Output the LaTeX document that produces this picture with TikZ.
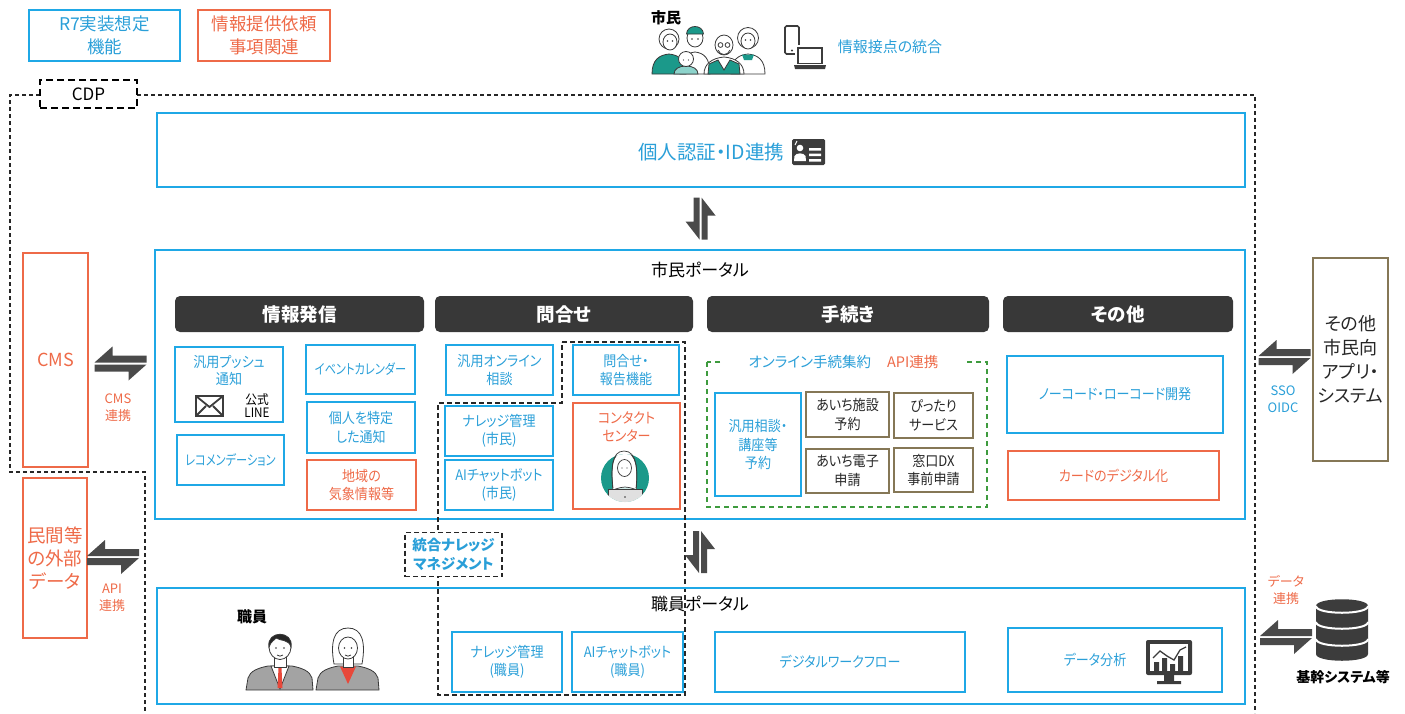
\documentclass[tikz,border=0pt]{standalone}
\usepackage{fontspec}
\setmainfont{Noto Sans CJK JP}[RawFeature=+palt]
\newfontfamily\nrw{Noto Sans CJK JP}[RawFeature=+palt, FakeStretch=0.9]
\newfontfamily\nrwx{Noto Sans CJK JP}[RawFeature=+palt, FakeStretch=0.8]
\usetikzlibrary{calc}
\definecolor{cblue}{HTML}{1FA8E6}
\definecolor{cbluetxt}{HTML}{2A9FD8}
\definecolor{corange}{HTML}{EE6A48}
\definecolor{colive}{HTML}{857756}
\definecolor{cgreen}{HTML}{3E9B3E}
\definecolor{chdr}{HTML}{383838}
\definecolor{carrow}{HTML}{4A4A4A}
\definecolor{cteal}{HTML}{1B998A}
\definecolor{cteallight}{HTML}{8DD3CB}
\definecolor{cicon}{HTML}{3C3C3C}
\definecolor{cline}{HTML}{3A3A3A}
\definecolor{csuit}{HTML}{A3A3A3}
\definecolor{cred}{HTML}{E8483A}
\newcommand\fsz[2]{\fontsize{#1pt}{#2pt}\selectfont}
\tikzset{
  every node/.style={inner sep=0pt, outer sep=0pt},
  sz/.style 2 args={minimum width=#1pt, minimum height=#2pt},
  bbox/.style={draw=cblue, line width=1.3pt, text=cbluetxt, align=center, font=\nrw\fsz{14.5}{18.5}},
  obox/.style={draw=corange, line width=1.3pt, text=corange, align=center, font=\nrw\fsz{14.5}{18.5}},
  kbox/.style={draw=colive, line width=1.7pt, text=black!85, align=center, font=\nrw\fsz{14.5}{18.5}},
  hdr/.style={fill=chdr, rounded corners=5pt, text=white, font=\bfseries\fsz{18.5}{22}},
  portal/.style={draw=cblue, line width=1.3pt},
  cdpline/.style={draw=black!85, line width=1.1pt, dash pattern=on 4pt off 3pt},
  kmline/.style={draw=black!85, line width=1.2pt, dash pattern=on 5pt off 3pt},
  smalllbl/.style={align=center, font=\fsz{13}{17}},
  splitv/.pic={
    \fill[carrow] (-7,-21) -- (-1,-21) -- (-1,21) -- (-15,3) -- (-7,3) -- cycle;
    \fill[carrow] (1,-21) -- (15,-3) -- (7,-3) -- (7,21) -- (1,21) -- cycle;
  },
  splith/.pic={
    \fill[carrow] (-26,-1) -- (-8,-17) -- (-8,-8) -- (26,-8) -- (26,-1) -- cycle;
    \fill[carrow] (26,1) -- (8,17) -- (8,8) -- (-26,8) -- (-26,1) -- cycle;
  },
}
\begin{document}
\begin{tikzpicture}[x=1pt,y=-1pt]
\useasboundingbox (0,0) rectangle (1405,713);

% ---- legend ----
\node[bbox, line width=1.5pt, sz={151}{51}, font=\fsz{17.5}{23}] (legR7) at (104.5,35.5) {R7実装想定\\機能};
\node[obox, line width=1.5pt, sz={132}{51}, font=\fsz{17.5}{23}] (legReq) at (264,35.5) {情報提供依頼\\事項関連};

% ---- citizens ----
\node[font=\bfseries\fsz{15}{18}] (citizen) at (666,18) {市民};
\begin{scope}[draw=cline, line width=0.8pt]
  % old woman (back right)
  \filldraw[fill=white] (731,74) .. controls (731,60) and (738,55) .. (748,54) .. controls (758,55) and (765,60) .. (765,74) -- cycle;
  \fill[cteal] (742,54.5) -- (754,54.5) -- (752,60) -- (744,60) -- cycle;
  \filldraw[fill=white] (748,38) circle (10.5);
  \filldraw[fill=white] (748,41) ellipse (7 and 8);
  \fill[cline] (745.5,40) circle (0.8) (750.5,40) circle (0.8);
  % man with cap
  \filldraw[fill=white] (680,74) .. controls (680,58) and (686,53) .. (695,52) .. controls (704,53) and (710,58) .. (710,74) -- cycle;
  \filldraw[fill=white] (695,38) ellipse (8 and 9);
  \filldraw[fill=cteal] (686.5,34) .. controls (687,24) and (703,24) .. (703.5,34) -- cycle;
  \fill[cline] (692,39) circle (0.8) (698,39) circle (0.8);
  % woman (left)
  \filldraw[fill=cteal] (652,74) .. controls (652,60) and (659,55) .. (669,54) .. controls (679,55) and (686,60) .. (686,74) -- cycle;
  \filldraw[fill=white] (669,39) circle (10);
  \filldraw[fill=white] (670,42) ellipse (7 and 8);
  \fill[cline] (667.5,41) circle (0.8) (672.5,41) circle (0.8);
  % old man with glasses
  \filldraw[fill=white] (704,74) .. controls (704,64) and (712,58) .. (724,57) .. controls (736,58) and (744,64) .. (744,74) -- cycle;
  \filldraw[fill=cteal] (708,74) -- (709,64) -- (718,60) -- (724,70) -- (730,60) -- (739,64) -- (740,74) -- cycle;
  \filldraw[fill=white] (724,45) ellipse (9 and 10);
  \draw (720.5,45) circle (2.4) (727.5,45) circle (2.4);
  \draw (718,50) .. controls (720,56) and (728,56) .. (730,50);
  % child (front)
  \filldraw[fill=cteallight] (674,74) .. controls (674,69) and (679,66) .. (686,66) .. controls (693,66) and (698,69) .. (698,74) -- cycle;
  \filldraw[fill=white] (686,59) circle (7.5);
  \fill[cline] (683.5,60) circle (0.7) (688.5,60) circle (0.7);
\end{scope}
% devices
\draw[cicon, line width=1.6pt, rounded corners=1.5pt] (785,26) rectangle (799,54);
\fill[cicon] (792,50.5) circle (1.2);
\fill[white] (795,45) rectangle (825,67);
\draw[cicon, line width=1.6pt] (798,48) rectangle (822,63.5);
\fill[cicon] (794,65) -- (826,65) -- (825,69) -- (795,69) -- cycle;
\node[text=cbluetxt, font=\fsz{15}{18}] (touch) at (890,47) {情報接点の統合};

% ---- CDP frame ----
\draw[cdpline] (40,95) -- (10,95) -- (10,472) -- (145,472) -- (145,713);
\draw[cdpline] (137,95) -- (1255,95) -- (1255,713);
\node[draw=black, line width=2pt, dash pattern=on 7pt off 4pt, fill=white, sz={97}{28}, font=\fsz{17}{20}] (cdp) at (88.5,94) {CDP};

% ---- authentication ----
\node[portal, sz={1088}{74}] (idbox) at (701,150) {};
\node[text=cbluetxt, font=\fsz{19.5}{22}, anchor=east] (idtext) at (784,152) {個人認証・ID連携};
\fill[cicon, rounded corners=1.5pt] (792,139) rectangle (825,165);
\fill[white] (800,148) circle (3.3);
\fill[white] (794,161) -- (794.5,156) .. controls (795.5,152.5) and (804.5,152.5) .. (805.5,156) -- (806,161) -- cycle;
\draw[white, line width=1pt] (795,145) -- (797,141);
\fill[white] (809,148) rectangle (821,150.5) (809,153.5) rectangle (821,156) (809,159) rectangle (821,161.5);
\pic at ($(idbox.south)!0.5!(700,250)$) {splitv};

% ---- citizen portal ----
\node[portal, sz={1090}{269}] (cportal) at (700,384.5) {};
\node[font=\fsz{17}{20}] (ctitle) at (700,270) {市民ポータル};
\node[hdr, sz={249}{36}] (hInfo) at (299.5,314) {情報発信};
\node[hdr, sz={258}{36}] (hAsk) at (564,314) {問合せ};
\node[hdr, sz={282}{36}] (hProc) at (848,314) {手続き};
\node[hdr, sz={230}{36}] (hOther) at (1118,314) {その他};

% information delivery
\node[bbox, sz={108}{75}] (push) at (229,384.5) {};
\node[text=cbluetxt, align=center, font=\nrw\fsz{14.5}{17}] (pushtxt) at (229,371) {汎用プッシュ\\通知};
\draw[cicon, line width=2pt] (196,396) rectangle (223,416);
\draw[cicon, line width=1.8pt] (196,396) -- (209.5,407) -- (223,396) (196,416) -- (206,406) (223,416) -- (213,406);
\node[align=center, font=\nrw\fsz{13}{13}] (line) at (257,406) {公式\\LINE};
\node[bbox, sz={107}{50}, font=\nrwx\fsz{14}{18}] (recom) at (230.5,460) {レコメンデーション};
\node[bbox, sz={109}{49}, font=\nrwx\fsz{14}{18}] (event) at (360.5,369.5) {イベントカレンダー};
\node[bbox, sz={108}{51}] (notify) at (361,427.5) {個人を特定\\した通知};
\node[obox, sz={109}{50}] (weather) at (361.5,485) {地域の\\気象情報等};

% inquiries
\node[bbox, sz={107}{50}] (online) at (499.5,370) {汎用オンライン\\相談};
\node[bbox, sz={108}{50}] (knowc) at (499,431) {ナレッジ管理\\(市民)};
\node[bbox, sz={108}{50}] (aic) at (499,485) {AIチャットボット\\(市民)};
\node[bbox, sz={106}{50}] (report) at (626,370) {問合せ・\\報告機能};
\node[obox, sz={107}{106}] (contact) at (626.5,456) {};
\node[text=corange, align=center, font=\nrw\fsz{14.5}{18}] (contacttxt) at (626.5,427) {コンタクト\\センター};
\begin{scope}[draw=cline, line width=0.7pt]
  \fill[cteal] (625,478) circle (24);
  \begin{scope}
    \clip (625,478) circle (24);
    \filldraw[fill=white] (613,492) .. controls (611,470) and (611,452) .. (624,452) .. controls (637,452) and (638,470) .. (636,492) -- cycle;
    \filldraw[fill=cteallight!40] (603,510) .. controls (604,494) and (612,488) .. (625,487) .. controls (638,488) and (646,494) .. (647,510) -- cycle;
    \filldraw[fill=black!12] (608,489) rectangle (642,504);
    \fill[cline] (625,497) circle (0.9);
  \end{scope}
  \draw (613,488) .. controls (611,470) and (611,451) .. (624,451) .. controls (637,451) and (638,470) .. (636,488);
  \filldraw[fill=white] (624.5,468) ellipse (7 and 8.5);
  \fill[cline] (622,468) circle (0.7) (627,468) circle (0.7);
\end{scope}

% procedures
\draw[cgreen, line width=1.2pt, dash pattern=on 5pt off 4pt] (707,362) rectangle (987,507);
\node[fill=white, sz={243}{26}, font=\fsz{14.5}{18}] (proclbl) at (843.5,362) {\textcolor{cbluetxt}{オンライン手続集約}\hspace{16pt}\textcolor{corange}{API連携}};
\node[bbox, sz={86}{103}] (sodan) at (758,444.5) {汎用相談・\\講座等\\予約};
\node[kbox, sz={83}{45}] (aichi1) at (847.5,414.5) {あいち施設\\予約};
\node[kbox, sz={79}{45}] (pittari) at (933.5,415.5) {ぴったり\\サービス};
\node[kbox, sz={83}{44}] (aichi2) at (847.5,471) {あいち電子\\申請};
\node[kbox, sz={79}{44}] (mado) at (933.5,470) {窓口DX\\事前申請};

% others
\node[bbox, sz={216}{77}] (nocode) at (1115,394.5) {ノーコード・ローコード開発};
\node[obox, sz={211}{49}] (card) at (1113.5,475.5) {カードのデジタル化};

% ---- left side ----
\node[obox, sz={65}{214}, font=\fsz{18}{22}] (cms) at (55.5,360) {CMS};
\pic at (120.5,363.5) {splith};
\node[smalllbl, text=corange] (cmslbl) at (118,408) {CMS\\連携};
\node[obox, sz={64}{160}, font=\fsz{18.5}{23}] (ext) at (55,558) {民間等\\の外部\\データ};
\pic at (113,557) {splith};
\node[smalllbl, text=corange] (apilbl) at (112,598) {API\\連携};

% ---- right side ----
\pic at (1284.5,357) {splith};
\node[smalllbl, text=cbluetxt] (sso) at (1283,399) {SSO\\OIDC};
\node[kbox, sz={75}{203}, font=\fsz{18}{24}] (otherapp) at (1350.5,359.5) {その他\\市民向\\アプリ・\\システム};

% ---- integrated knowledge management ----
\draw[kmline] (562,342) -- (685,342) -- (685,695) -- (438,695) -- (438,403) -- (562,403) -- cycle;
\node[draw=black!85, line width=1.2pt, dash pattern=on 5pt off 3pt, fill=white, sz={97}{44}, text=cbluetxt, align=center, font=\bfseries\fsz{14.5}{19}] (kmlbl) at (453.5,554.5) {統合ナレッジ\\マネジメント};
\pic at (700,552) {splitv};

% ---- staff portal ----
\node[portal, sz={1088}{116}] (sportal) at (701,646) {};
\node[font=\fsz{17}{20}] (stitle) at (700,604) {職員ポータル};
\node[font=\bfseries\fsz{15}{18}] (staff) at (252,617) {職員};
\begin{scope}[draw=cline, line width=0.8pt]
  % man
  \filldraw[fill=csuit] (246,690) -- (248,678) .. controls (250,671) and (258,668) .. (268,666) -- (292,666) .. controls (302,668) and (310,671) .. (312,678) -- (313,690) -- cycle;
  \filldraw[fill=white] (271,666) -- (289,666) -- (280,689) -- cycle;
  \fill[cred] (278.5,668) -- (281.5,668) -- (282.5,688) -- (277.5,688) -- cycle;
  \filldraw[fill=white] (274,654) rectangle (286,667);
  \filldraw[fill=white] (280,647) ellipse (11 and 12.5);
  \filldraw[fill=black!85] (269,647) .. controls (266,630) and (294,630) .. (291,647) .. controls (289,639) and (280,641) .. (276,638) .. controls (274,641) and (271,641) .. (269,647) -- cycle;
  \fill[cline] (276,648) circle (0.9) (284,648) circle (0.9);
  \draw (277,655) .. controls (278.5,656.5) and (281.5,656.5) .. (283,655);
  % woman
  \filldraw[fill=white] (334,664) .. controls (330,642) and (334,628) .. (348,628) .. controls (362,628) and (366,642) .. (362,664) -- cycle;
  \filldraw[fill=csuit] (316,690) -- (318,678) .. controls (320,671) and (328,668) .. (338,666) -- (358,666) .. controls (368,668) and (376,671) .. (378,678) -- (379,690) -- cycle;
  \fill[cred] (340,666.5) -- (356,666.5) -- (348,684) -- cycle;
  \filldraw[fill=white] (343,656) rectangle (353,667);
  \filldraw[fill=white] (348,648) ellipse (9.5 and 11);
  \fill[cline] (344.5,648) circle (0.9) (351.5,648) circle (0.9);
  \draw (345,655) .. controls (346.5,656.5) and (349.5,656.5) .. (351,655);
\end{scope}
\node[bbox, sz={110}{60}] (knows) at (507,662) {ナレッジ管理\\(職員)};
\node[bbox, sz={111}{60}] (ais) at (627.5,662) {AIチャットボット\\(職員)};
\node[bbox, sz={250}{60}] (flow) at (840,662) {デジタルワークフロー};
\node[bbox, sz={214}{64}] (analysis) at (1115,660) {};
\node[text=cbluetxt, font=\nrw\fsz{14.5}{18}] (analysistxt) at (1095,660) {データ分析};
\fill[cicon, rounded corners=2pt] (1146,640) rectangle (1192,675);
\fill[white] (1150,644) rectangle (1188,671);
\fill[cicon] (1154,662) rectangle (1159,671) (1162,658) rectangle (1167,671) (1170,664) rectangle (1175,671) (1178,656) rectangle (1183,671);
\draw[cicon, line width=1.3pt] (1153,658) -- (1160,651) -- (1167,656) -- (1174,660) -- (1180,650) -- (1186,647);
\fill[cicon] (1164,675) rectangle (1174,681) (1157,681) rectangle (1181,684);

% ---- core systems ----
\node[smalllbl, text=corange] (datalbl) at (1286,590) {データ\\連携};
\pic at (1286,637) {splith};
\fill[cicon] (1316,606) -- (1316,654) .. controls (1316,663) and (1368,663) .. (1368,654) -- (1368,606) .. controls (1368,597) and (1316,597) .. (1316,606) -- cycle;
\draw[white, line width=2pt] (1316,606) .. controls (1316,615) and (1368,615) .. (1368,606);
\draw[white, line width=2pt] (1316,622) .. controls (1316,631) and (1368,631) .. (1368,622);
\draw[white, line width=2pt] (1316,639) .. controls (1316,648) and (1368,648) .. (1368,639);
\node[font=\bfseries\fsz{14}{18}] (core) at (1343,677) {基幹システム等};
\end{tikzpicture}
\end{document}
